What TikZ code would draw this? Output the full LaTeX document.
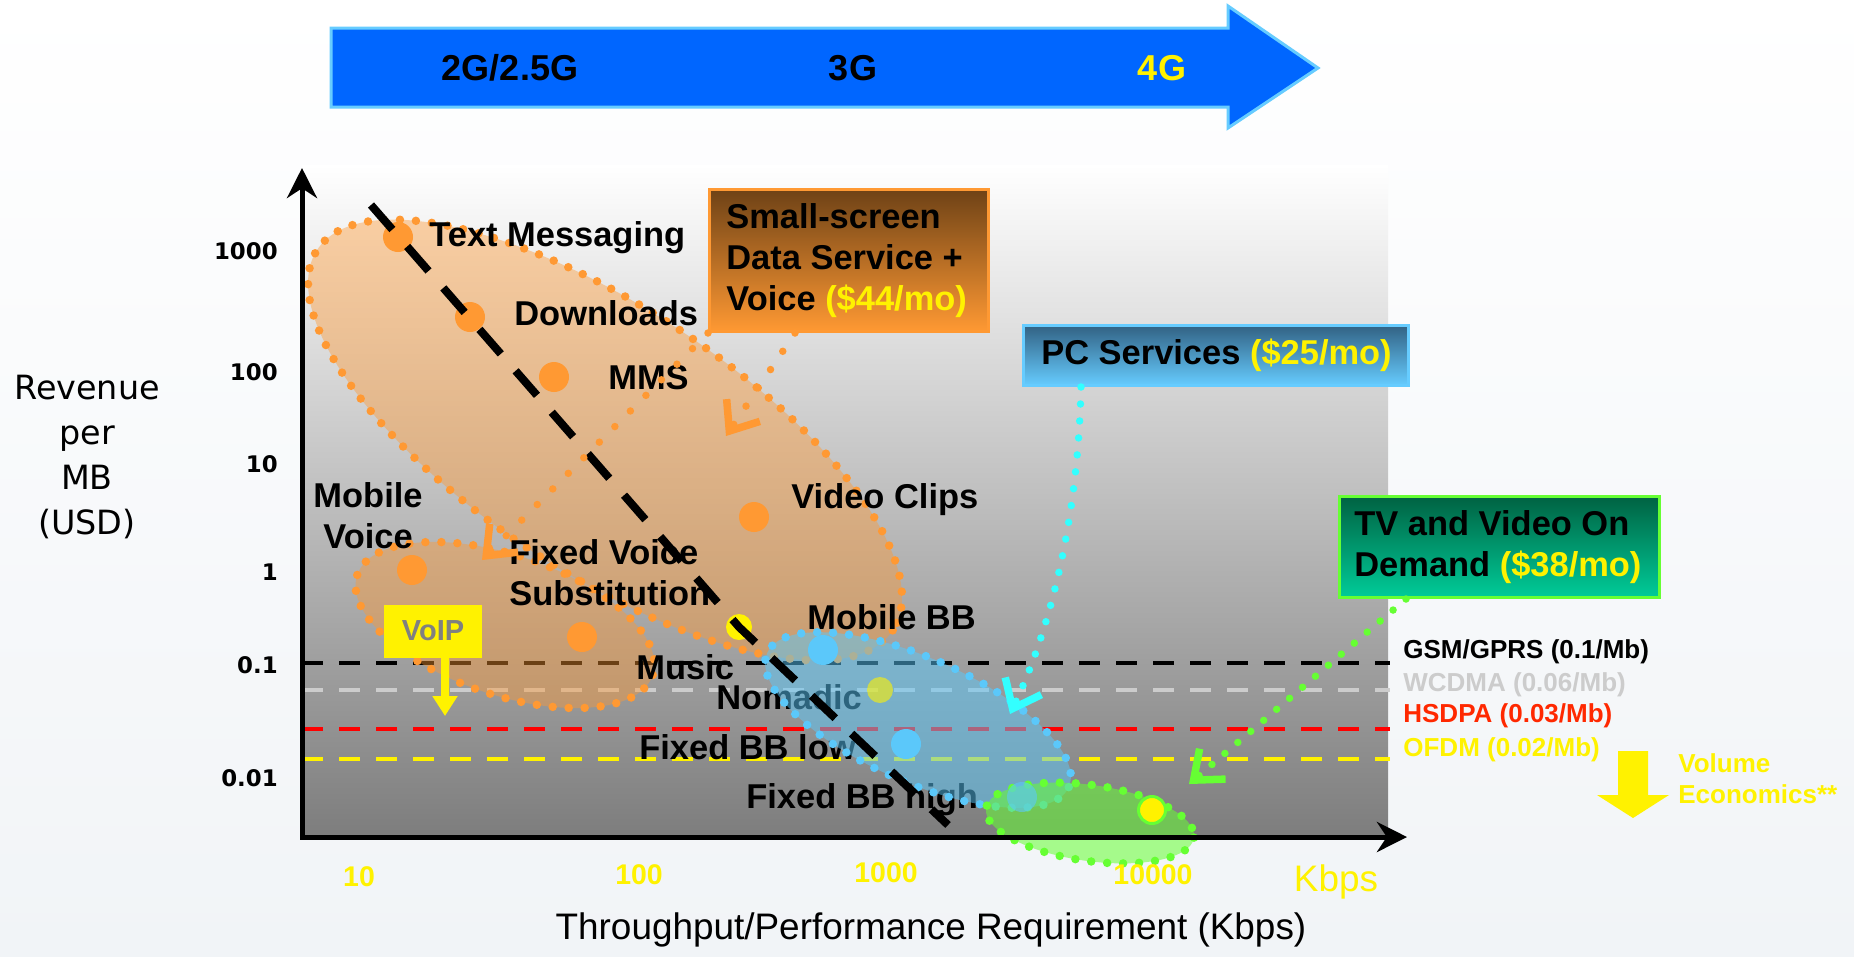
\documentclass[tikz,border=0pt]{standalone}
\usepackage{fontspec}
\setmainfont{Liberation Sans}
\newfontfamily\verdanaish{DejaVu Sans}
\usepackage{xcolor}
\usepackage{tikz}
\usetikzlibrary{arrows.meta, positioning}
\definecolor{wideblue}{RGB}{0,102,255}
\definecolor{edgeblue}{RGB}{102,204,255}
\definecolor{bubbleorange}{RGB}{255,153,51}
\definecolor{bubbleblue}{RGB}{91,200,250}
\definecolor{bubblegreen}{RGB}{102,255,51}
\definecolor{pointercyan}{RGB}{51,255,255}
\definecolor{brownbox}{RGB}{110,66,22}
\definecolor{pcdark}{RGB}{50,98,132}
\definecolor{tvdark}{RGB}{0,98,66}
\definecolor{tvlight}{RGB}{0,204,153}
\definecolor{wcdmagrey}{RGB}{204,204,204}
\definecolor{hsdpared}{RGB}{255,40,0}
\definecolor{pagebottom}{RGB}{241,244,247}
\definecolor{plotbottom}{RGB}{125,125,125}
\definecolor{voipgrey}{RGB}{128,128,128}

\begin{document}
\begin{tikzpicture}[
    x=0.2mm, y=-0.2mm,
    svc/.style={font=\fontsize{19.6}{23.5}\selectfont\bfseries, inner sep=0pt},
    gen/.style={font=\fontsize{20.5}{24}\selectfont\bfseries, inner sep=0pt},
    ytick/.style={font=\verdanaish\fontsize{13}{15}\selectfont\bfseries, anchor=east, inner sep=0pt},
    xtick/.style={font=\fontsize{16.2}{19}\selectfont\bfseries, text=yellow, inner sep=0pt},
    rate/.style={font=\fontsize{14.8}{17.5}\selectfont\bfseries, anchor=west, inner sep=0pt},
    spot/.style={circle, minimum size=6mm, inner sep=0pt},
    pricebox/.style={rectangle, line width=0.6mm, anchor=north west, inner sep=0pt},
    boxtext/.style={font=\fontsize{19.6}{23.5}\selectfont\bfseries, align=left, anchor=west, inner sep=0pt},
    rimdots/.style={line width=1.7mm, line cap=round, dash pattern=on 0pt off 3.2mm},
    ratedash/.style={line width=0.9mm, dash pattern=on 4.2mm off 3.2mm},
    pointer/.style={line width=1.5mm, line cap=round, dash pattern=on 0pt off 3.4mm,
                    -{Straight Barb[length=5mm, width=8mm]}}
]

% backdrop
\fill[top color=white, bottom color=pagebottom] (0,0) rectangle (1854,956);
\useasboundingbox (0,0) rectangle (1854,956);

% generations arrow
\draw[line width=0.6mm, edgeblue, fill=wideblue] (331,28) -- (1228,28) -- (1228,6) -- (1318,68)
    -- (1228,128) -- (1228,107) -- (331,107) -- cycle;
\node[gen] (g2) at (510,68) {2G/2.5G};
\node[gen] (g3) at (853,68) {3G};
\node[gen, text=yellow] (g4) at (1162,68) {4G};

% plot area
\fill[top color=white, bottom color=plotbottom] (302,165) rectangle (1388,837);

% cost per Mb lines
\draw[ratedash, black] (302,663) -- (1390,663);
\draw[ratedash, wcdmagrey] (302,690) -- (1390,690);
\draw[ratedash, red] (302,729) -- (1390,729);
\draw[ratedash, yellow] (302,759) -- (1390,759);
\node[rate] (gsm) at (1403,652) {GSM/GPRS (0.1/Mb)};
\node[rate, text=wcdmagrey] (wcdma) at (1403,685) {WCDMA (0.06/Mb)};
\node[rate, text=hsdpared] (hsdpa) at (1403,716) {HSDPA (0.03/Mb)};
\node[rate, text=yellow] (ofdm) at (1403,750) {OFDM (0.02/Mb)};

% small-screen services
\draw[rimdots, bubbleorange, fill=bubbleorange, fill opacity=0.42, rotate around={-33.5:(605,440)}]
    (605,440) ellipse [x radius=345, y radius=133];
\draw[rimdots, bubbleorange, fill=bubbleorange, fill opacity=0.42, rotate around={-18.7:(505,625)}]
    (505,625) ellipse [x radius=156, y radius=70];
\node[spot, fill=bubbleorange] (txtdot) at (398,237) {};
\node[spot, fill=bubbleorange] (dldot) at (470,317) {};
\node[spot, fill=bubbleorange] (mmsdot) at (554,377) {};
\node[spot, fill=bubbleorange] (clipdot) at (754,517) {};
\node[spot, fill=bubbleorange] (mvdot) at (412,570) {};
\node[spot, fill=bubbleorange] (fvsdot) at (582,637) {};
\node[spot, fill=yellow, minimum size=5.2mm] (musicdot) at (739,627) {};
\node[svc, anchor=west] (txt) at (429,238) {Text Messaging};
\node[svc, anchor=west] (dl) at (514,313) {Downloads};
\node[svc, anchor=west] (mms) at (608,378) {MMS};
\node[svc, anchor=west] (clips) at (791,500) {Video Clips};
\node[svc, align=center] (mv) at (368,516) {Mobile\\Voice};
\node[svc, anchor=west, align=left] (fvs) at (509,573) {Fixed Voice\\Substitution};
\node[svc, anchor=west] (music) at (636,667) {Music};
\node[svc, anchor=west] (mbb) at (807,617) {Mobile BB};
\node[svc, anchor=west] (nomadic) at (716,697) {Nomadic};
\node[svc, anchor=west] (fbblow) at (639,747) {Fixed BB low};
\node[svc, anchor=west] (fbbhigh) at (746,800) {Fixed BB high};

% PC and TV services
\draw[rimdots, bubbleblue, fill=bubbleblue, fill opacity=0.5, rotate around={-24:(918,720)}]
    (918,720) ellipse [x radius=165, y radius=62];
\draw[rimdots, bubblegreen, fill=bubblegreen, fill opacity=0.55, rotate around={-8:(1090,823)}]
    (1090,823) ellipse [x radius=105, y radius=38];
\node[spot, fill=bubbleblue] (mbbdot) at (823,650) {};
\node[spot, fill=yellow, fill opacity=0.6, minimum size=5.2mm] (nomdot) at (880,690) {};
\node[spot, fill=bubbleblue] (lowdot) at (906,744) {};
\node[spot, fill=bubbleblue, fill opacity=0.6] (highdot) at (1022,797) {};
\node[spot, fill=yellow, draw=bubblegreen, line width=0.6mm, minimum size=5.4mm] (tvdot) at (1152,810) {};

% price trend
\draw[line width=1.6mm, dash pattern=on 6.5mm off 4.5mm] (txtdot.center) ++(-27,-32) -- (musicdot.center) -- (948,825);

% axes
\draw[line width=1mm, -{Stealth[length=6mm, width=6mm]}] (302,839) -- (302,168);
\draw[line width=1mm, -{Stealth[length=6mm, width=6mm]}] (300,837) -- (1407,837);
\node[ytick] (y1000) at (278,251) {1000};
\node[ytick] (y100) at (278,372) {100};
\node[ytick] (y10) at (278,464) {10};
\node[ytick] (y1) at (278,572) {1};
\node[ytick] (y01) at (278,665) {0.1};
\node[ytick] (y001) at (278,778) {0.01};
\node[font=\verdanaish\fontsize{19}{25.6}\selectfont, align=center] (ylab) at (87,457) {Revenue\\per\\MB\\(USD)};
\node[xtick] (x10) at (359,877) {10};
\node[xtick] (x100) at (639,875) {100};
\node[xtick] (x1000) at (886,873) {1000};
\node[xtick] (x10000) at (1153,875) {10000};
\node[font=\fontsize{21}{25}\selectfont, text=yellow] (kbps) at (1336,882) {Kbps};
\node[font=\fontsize{21}{25}\selectfont] (xlab) at (931,930) {Throughput/Performance Requirement (Kbps)};

% VoIP
\node[rectangle, fill=yellow, minimum width=19.6mm, minimum height=10.6mm, text=voipgrey,
      font=\fontsize{16.5}{19}\selectfont\bfseries] (voip) at (433,631) {VoIP};
\coordinate (voipend) at (445,716);
\draw[yellow, line width=1.6mm, -{Triangle[length=4mm, width=4.8mm]}] ([xshift=2.4mm]voip.south) -- (voipend);

% price boxes
\node[pricebox, draw=bubbleorange, top color=brownbox, bottom color=bubbleorange,
      minimum width=55.8mm, minimum height=28.4mm] (smallscreen) at (708,188) {};
\node[boxtext] at ([xshift=3.6mm]smallscreen.west) {Small-screen\\Data Service +\\Voice \textcolor{yellow}{(\$44/mo)}};
\node[pricebox, draw=edgeblue, top color=pcdark, bottom color=edgeblue,
      minimum width=77mm, minimum height=12mm] (pc) at (1022,324) {};
\node[boxtext] at ([xshift=3.8mm]pc.west) {PC Services \textcolor{yellow}{(\$25/mo)}};
\node[pricebox, draw=bubblegreen, top color=tvdark, bottom color=tvlight,
      minimum width=64mm, minimum height=20.2mm] (tv) at (1338,495) {};
\node[boxtext] at ([xshift=3.2mm]tv.west) {TV and Video On\\Demand \textcolor{yellow}{(\$38/mo)}};

% pointers
\coordinate (cliptip) at (726,436);
\coordinate (voicetip) at (482,560);
\coordinate (pctip) at (1010,714);
\coordinate (tvtip) at (1189,784);
\draw[pointer, bubbleorange, dash pattern=on 0pt off 4.4mm] ([xshift=17.4mm]smallscreen.south west) -- (cliptip);
\draw[pointer, bubbleorange, dash pattern=on 0pt off 4.4mm] (smallscreen.south west) -- (voicetip);
\draw[pointer, pointercyan] ([xshift=11.8mm]pc.south west) .. controls (1078,520) and (1050,630) .. (pctip);
\draw[pointer, bubblegreen] ([xshift=13.6mm]tv.south west) -- (tvtip);

% volume economics
\fill[yellow] (1618,751) -- (1648,751) -- (1648,795) -- (1669,795) -- (1633,818) -- (1597,795)
    -- (1618,795) -- cycle;
\node[rate, text=yellow, align=left] (volume) at (1678,779) {Volume\\Economics**};

\end{tikzpicture}
\end{document}
